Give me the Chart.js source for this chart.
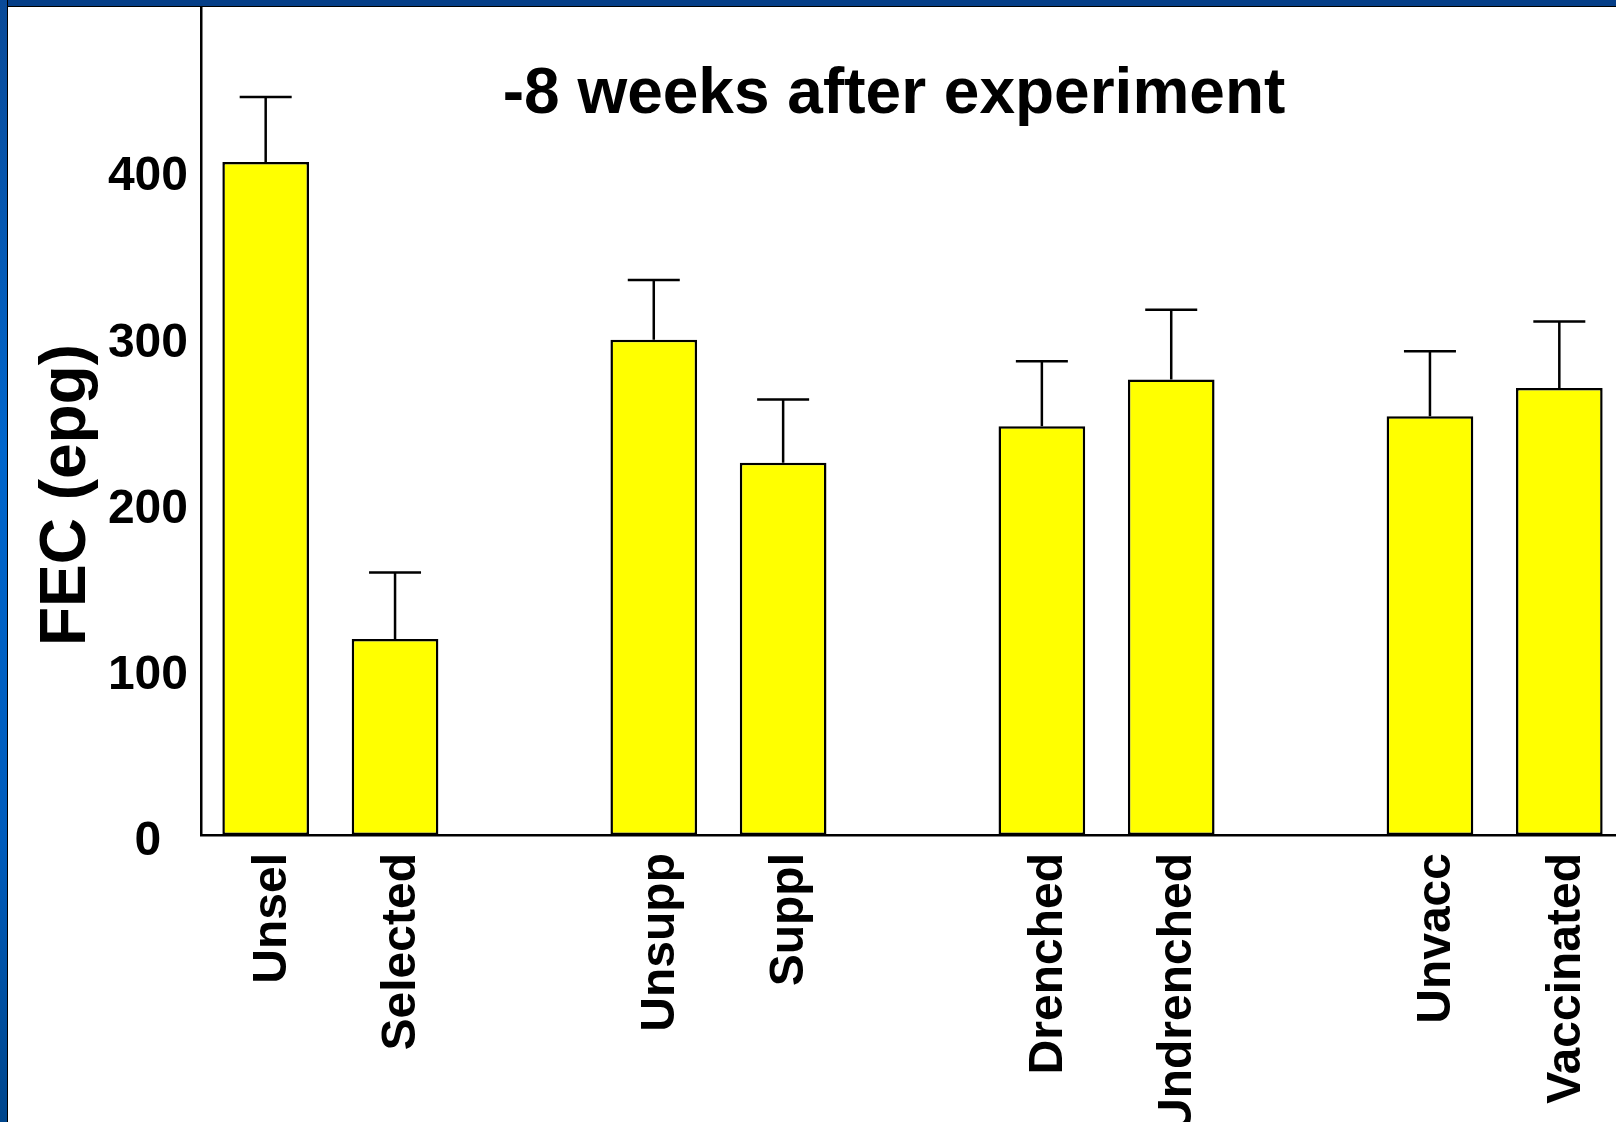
<!DOCTYPE html>
<html>
<head>
<meta charset="utf-8">
<title>FEC -8 weeks after experiment</title>
<script src="https://cdn.jsdelivr.net/npm/chart.js@4/dist/chart.umd.min.js"></script>
<style>
  html, body { margin: 0; padding: 0; overflow: hidden; background: #fff; }
  #wrap { position: relative; width: 1616px; height: 1122px; overflow: hidden; }
  #myChart { position: absolute; left: 0; top: 0; }
  #frameTop { position: absolute; left: 0; top: 0; width: 1616px; height: 6px;
    background: #063f88; border-bottom: 1px solid #000; }
  #frameLeft { position: absolute; left: 0; top: 0; width: 7px; height: 1122px;
    background: linear-gradient(#0a4a98, #0066cc 40%, #005cbc 75%, #00468c);
    border-right: 1px solid #000; }
</style>
</head>
<body>
<div id="wrap">
  <canvas id="myChart" width="1640" height="1122"></canvas>
  <div id="frameTop"></div>
  <div id="frameLeft"></div>
</div>
<script>
// kategorie, prázdné položky dělají mezery mezi skupinami
const categories = ['Unsel', 'Selected', '', 'Unsupp', 'Suppl', '', 'Drenched', 'Undrenched', '', 'Unvacc', 'Vaccinated'];
const fecMeans = [405, 118, null, 298, 224, null, 246, 274, null, 252, 269];
const fecErrors = [39, 40, null, 36, 38, null, 39, 42, null, 39, 40];
const yTicks = [0, 100, 200, 300, 400];
const chartTitle = '-8 weeks after experiment';
const yTitle = 'FEC (epg)';

const FONT = "'Liberation Sans', Arial, sans-serif";

// chybové úsečky jen směrem nahoru
const errorBars = {
    id: 'errorBars',
    afterDatasetsDraw(chart){
        const ctx = chart.ctx;
        const yScale = chart.scales.y;
        const meta = chart.getDatasetMeta(0);
        ctx.save();
        ctx.strokeStyle = '#000';
        ctx.lineWidth = 2.5;
        meta.data.forEach((bar, i) => {
            if (fecMeans[i] === null) return;
            const top = yScale.getPixelForValue(fecMeans[i] + fecErrors[i]);
            ctx.beginPath();
            ctx.moveTo(bar.x, bar.y);
            ctx.lineTo(bar.x, top);
            ctx.moveTo(bar.x - 26, top);
            ctx.lineTo(bar.x + 26, top);
            ctx.stroke();
        });
        ctx.restore();
    }
};

// nadpis a popisek osy y jsou uvnitř grafu, ne nad ním
const innerTitles = {
    id: 'innerTitles',
    afterDraw(chart){
        const ctx = chart.ctx;
        ctx.save();
        ctx.font = 'bold 64px ' + FONT;
        ctx.fillStyle = '#000';
        ctx.textAlign = 'center';
        ctx.textBaseline = 'middle';
        ctx.fillText(chartTitle, 894, 95);
        ctx.translate(67, 495);
        ctx.rotate(-Math.PI / 2);
        ctx.fillText(yTitle, 0, 0);
        ctx.restore();
    }
};

const ctx = document.getElementById('myChart').getContext('2d');

new Chart(ctx, {
    type: 'bar',
    data: {
        labels: categories,
        datasets: [{
            data: fecMeans,
            backgroundColor: '#ffff00',
            borderColor: '#000',
            borderWidth: 2.5,
            borderSkipped: false,
            barPercentage: 0.67,
            categoryPercentage: 1.0
        }]
    },
    options: {
        responsive: false,
        animation: false,
        layout: { padding: { top: 4, right: 16, bottom: 0, left: 0 } },
        plugins: {
            legend: { display: false },
            tooltip: { enabled: false }
        },
        scales: {
            x: {
                grid: { display: false, drawTicks: false },
                border: { display: true, color: '#000', width: 2.5 },
                ticks: {
                    color: '#000',
                    font: { family: FONT, size: 48, weight: 'bold' },
                    minRotation: 90,
                    maxRotation: 90,
                    autoSkip: false,
                    padding: 18,
                    labelOffset: 7
                },
                afterFit(scale){
                    scale.height = 287;
                    scale.paddingLeft = 0;
                    scale.paddingRight = 0;
                }
            },
            y: {
                min: 0,
                max: 500,
                grid: { display: false, drawTicks: false },
                border: { display: true, color: '#000', width: 2.5 },
                afterBuildTicks(scale){ scale.ticks = yTicks.map(v => ({ value: v })); },
                ticks: {
                    color: '#000',
                    font: { family: FONT, size: 48, weight: 'bold' },
                    padding: 13,
                    crossAlign: 'center',
                    labelOffset: 7
                },
                afterFit(scale){
                    scale.width = 201;
                    scale.paddingTop = 0;
                    scale.paddingBottom = 0;
                }
            }
        }
    },
    plugins: [errorBars, innerTitles]
});
</script>
</body>
</html>
